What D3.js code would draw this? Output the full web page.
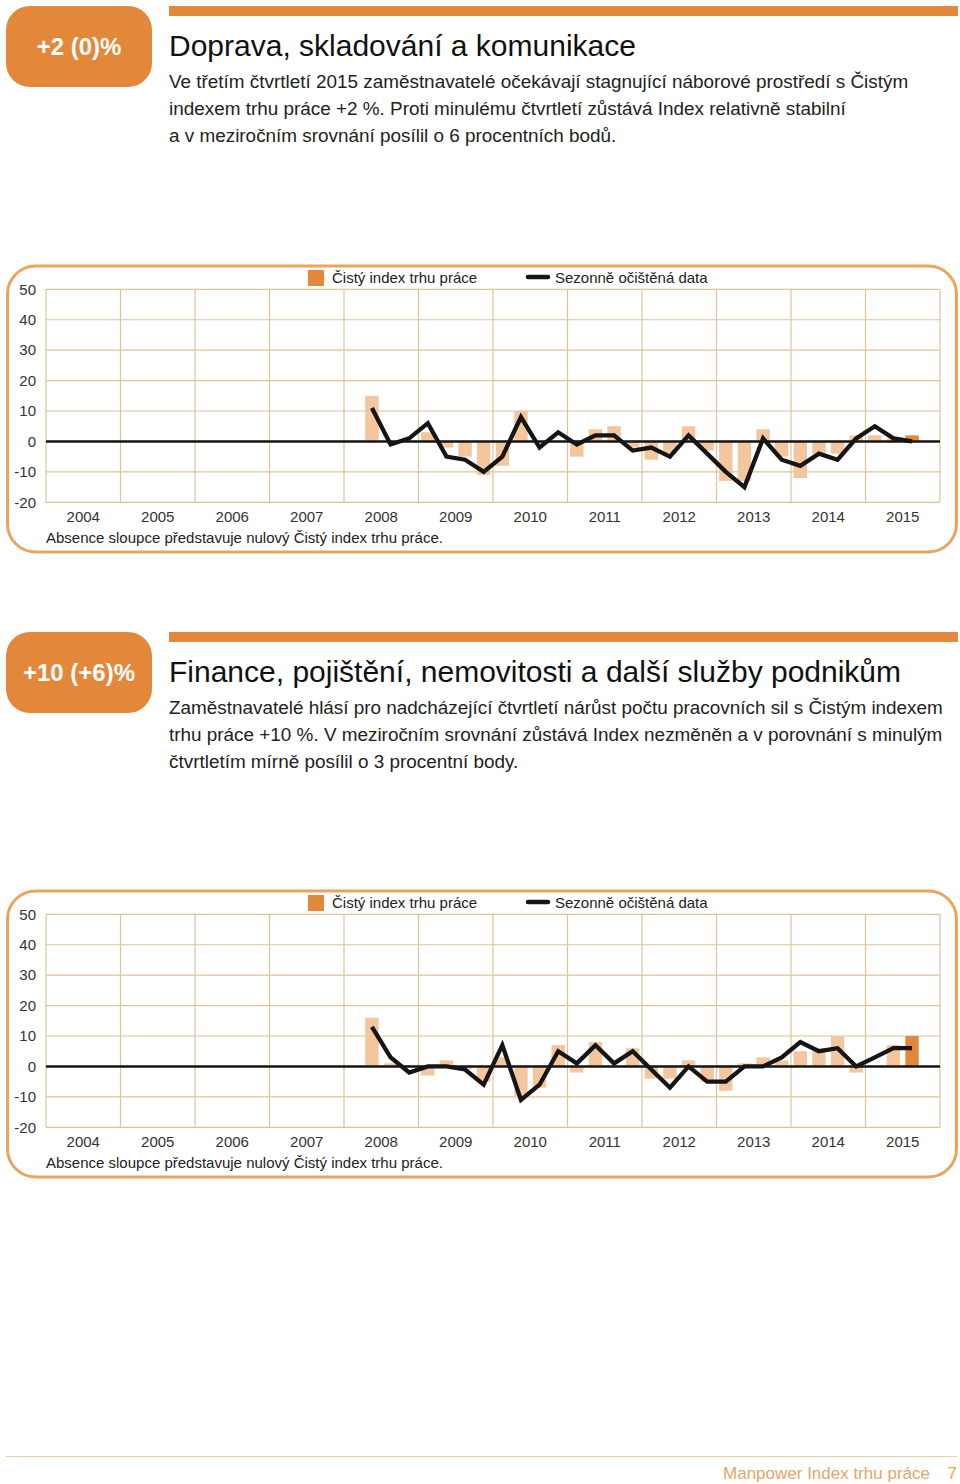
<!DOCTYPE html>
<html><head><meta charset="utf-8">
<script src="https://cdn.jsdelivr.net/npm/d3@7/dist/d3.min.js"></script>
<style>
body{margin:0;background:#fff}
svg{display:block;font-family:"Liberation Sans",Arial,Helvetica,sans-serif}
</style>
</head><body>
<svg id="c" width="960" height="1484"></svg>
<script>
// ---------- data ----------
const years = [2004,2005,2006,2007,2008,2009,2010,2011,2012,2013,2014,2015];
const yTicks = [50,40,30,20,10,0,-10,-20];
const dataQuarters = [
  "2008 Q2","2008 Q3","2008 Q4",
  "2009 Q1","2009 Q2","2009 Q3","2009 Q4",
  "2010 Q1","2010 Q2","2010 Q3","2010 Q4",
  "2011 Q1","2011 Q2","2011 Q3","2011 Q4",
  "2012 Q1","2012 Q2","2012 Q3","2012 Q4",
  "2013 Q1","2013 Q2","2013 Q3","2013 Q4",
  "2014 Q1","2014 Q2","2014 Q3","2014 Q4",
  "2015 Q1","2015 Q2","2015 Q3"];
const transportBars = [15,0,0, 3,-2,-5,-11, -8,10,0,0, -5,4,5,-2, -6,-4,5,-3, -13,-13,4,-5, -12,-4,-4,2, 2,1,2];
const transportLine = [11,-1,1, 6,-5,-6,-10, -5,8,-2,3, -1,2,2,-3, -2,-5,2,-4, -10,-15,1,-6, -8,-4,-6,1, 5,1,0];
const financeBars = [16,1,0, -3,2,-1,-5, 3,-10,-7,7, -2,8,0,6, -4,-4,2,-5, -8,1,3,2, 5,5,10,-2, 0,7,10];
const financeLine = [13,3,-2, 0,0,-1,-6, 7,-11,-6,5, 1,7,1,5, -1,-7,0,-5, -5,0,0,3, 8,5,6,0, 3,6,6];

const legendBarLabel = "Čistý index trhu práce";
const legendLineLabel = "Sezonně očištěná data";
const noteText = "Absence sloupce představuje nulový Čistý index trhu práce.";

const badges = ["+2 (0)%", "+10 (+6)%"];
const titles = ["Doprava, skladování a komunikace", "Finance, pojištění, nemovitosti a další služby podnikům"];
const bodies = [
  ["Ve třetím čtvrtletí 2015 zaměstnavatelé očekávají stagnující náborové prostředí s Čistým",
   "indexem trhu práce +2 %. Proti minulému čtvrtletí zůstává Index relativně stabilní",
   "a v meziročním srovnání posílil o 6 procentních bodů."],
  ["Zaměstnavatelé hlásí pro nadcházející čtvrtletí nárůst počtu pracovních sil s Čistým indexem",
   "trhu práce +10 %. V meziročním srovnání zůstává Index nezměněn a v porovnání s minulým",
   "čtvrtletím mírně posílil o 3 procentní body."]
];
const footerText = "Manpower Index trhu práce";
const pageNumber = "7";

// ---------- styles ----------
const ORANGE = "#e3873a";
const FRAME = "#eba45e";
const GRID = "#dcc39c";
const BAR = "#f3c69e";
const INK = "#151515";

const svg = d3.select("#c");

const allQuarters = [];
years.forEach(y => ["Q1","Q2","Q3","Q4"].forEach(q => allQuarters.push(y + " " + q)));

function drawHeader(off, badge, title, body){
  const g = svg.append("g").attr("transform", `translate(0,${off})`);
  g.append("rect").attr("x",6).attr("y",6).attr("width",146).attr("height",81)
    .attr("rx",24).attr("fill",ORANGE);
  g.append("text").attr("x",79).attr("y",55).attr("text-anchor","middle")
    .attr("fill","#fff").attr("font-size",24).attr("font-weight","bold").text(badge);
  g.append("rect").attr("x",169).attr("y",6).attr("width",789).attr("height",10).attr("fill",ORANGE);
  g.append("text").attr("x",169).attr("y",56).attr("font-size",30).attr("fill","#111").text(title);
  body.forEach((line,i) => {
    g.append("text").attr("x",169).attr("y",88 + i*27).attr("font-size",18.9)
      .attr("fill","#222").text(line);
  });
}

function drawChart(off, bars, line){
  const g = svg.append("g").attr("transform", `translate(0,${off})`);
  const left = 46, right = 940, top = 289.3, bottom = 502.3;

  g.append("rect").attr("x",7.5).attr("y",266).attr("width",949).attr("height",286)
    .attr("rx",28).attr("fill","none").attr("stroke",FRAME).attr("stroke-width",3);

  const x = d3.scaleBand().domain(allQuarters).range([left,right]).paddingInner(0.28).paddingOuter(0.14);
  const xy = d3.scaleBand().domain(years).range([left,right]);
  const y = d3.scaleLinear().domain([-20,50]).range([bottom,top]);

  // grid
  g.append("g").selectAll("line.h").data(yTicks).join("line")
    .attr("x1",left).attr("x2",right).attr("y1",d=>y(d)).attr("y2",d=>y(d))
    .attr("stroke",GRID).attr("stroke-width",1.2);
  const vx = years.map(d => xy(d)).concat([right]);
  g.append("g").selectAll("line.v").data(vx).join("line")
    .attr("x1",d=>d).attr("x2",d=>d).attr("y1",top).attr("y2",bottom)
    .attr("stroke",GRID).attr("stroke-width",1.2);

  // bars
  g.append("g").selectAll("rect").data(bars).join("rect")
    .attr("x",(d,i)=>x(dataQuarters[i]))
    .attr("width",x.bandwidth())
    .attr("y",d=>y(Math.max(0,d)))
    .attr("height",d=>Math.abs(y(d)-y(0)))
    .attr("fill",(d,i)=> i===bars.length-1 ? ORANGE : BAR);

  // zero line
  g.append("line").attr("x1",left).attr("x2",right).attr("y1",y(0)).attr("y2",y(0))
    .attr("stroke",INK).attr("stroke-width",2.5);

  // series line
  const lg = d3.line().x((d,i)=>x(dataQuarters[i]) + x.bandwidth()/2).y(d=>y(d));
  g.append("path").datum(line).attr("d",lg).attr("fill","none")
    .attr("stroke",INK).attr("stroke-width",4.3).attr("stroke-linejoin","miter").attr("stroke-linecap","butt");

  // axes
  const ya = g.append("g").attr("transform",`translate(${left},0)`)
    .call(d3.axisLeft(y).tickValues(yTicks).tickSize(0).tickPadding(10).tickFormat(d => String(d)));
  ya.select(".domain").remove();
  ya.selectAll("text").attr("font-size",15).attr("fill","#333").attr("font-family","Liberation Sans, Arial, sans-serif");

  const xa = g.append("g").attr("transform",`translate(0,${bottom})`)
    .call(d3.axisBottom(xy).tickSize(0).tickPadding(9));
  xa.select(".domain").remove();
  xa.selectAll("text").attr("font-size",15).attr("fill","#333").attr("font-family","Liberation Sans, Arial, sans-serif");

  // legend
  g.append("rect").attr("x",308).attr("y",270).attr("width",16).attr("height",16).attr("fill",ORANGE);
  g.append("text").attr("x",332).attr("y",283).attr("font-size",15).attr("fill","#222").text(legendBarLabel);
  g.append("line").attr("x1",528).attr("x2",548).attr("y1",277).attr("y2",277)
    .attr("stroke",INK).attr("stroke-width",4.5).attr("stroke-linecap","round");
  g.append("text").attr("x",555).attr("y",283).attr("font-size",15).attr("fill","#222").text(legendLineLabel);

  // note
  g.append("text").attr("x",46).attr("y",543).attr("font-size",15).attr("fill","#222").text(noteText);
}

drawHeader(0, badges[0], titles[0], bodies[0]);
drawChart(0, transportBars, transportLine);
drawHeader(626, badges[1], titles[1], bodies[1]);
drawChart(625, financeBars, financeLine);

// footer
svg.append("line").attr("x1",6).attr("x2",957).attr("y1",1456.5).attr("y2",1456.5)
  .attr("stroke","#efcfae").attr("stroke-width",1);
svg.append("text").attr("x",930).attr("y",1479).attr("text-anchor","end")
  .attr("font-size",17).attr("fill","#e8a566").text(footerText);
svg.append("text").attr("x",957).attr("y",1479).attr("text-anchor","end")
  .attr("font-size",17).attr("fill","#e8a566").text(pageNumber);
</script>
</body></html>
